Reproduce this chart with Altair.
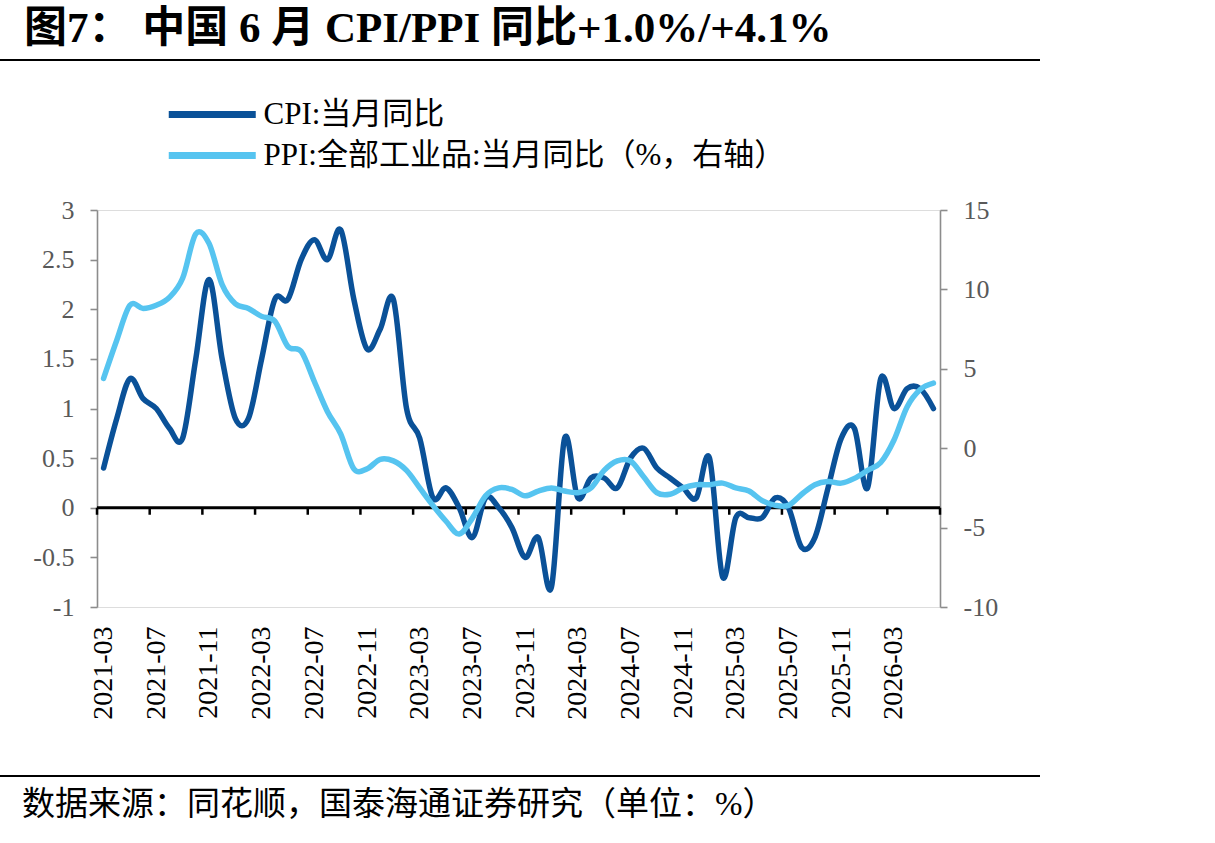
import altair as alt
import pandas as pd

# ---------------- data ----------------
months = [str(p) for p in pd.period_range("2021-03", periods=64, freq="M")]

cpi = [
    0.4, 0.9, 1.3, 1.1, 1.0, 0.8, 0.7, 1.5, 2.3, 1.5,
    0.9, 0.9, 1.5, 2.1, 2.1, 2.5, 2.7, 2.5, 2.8, 2.1, 1.6, 1.8,
    2.1, 1.0, 0.7, 0.1, 0.2, 0.0, -0.3, 0.1, 0.0, -0.2, -0.5, -0.3,
    -0.8, 0.7, 0.1, 0.3, 0.3, 0.2, 0.5, 0.6, 0.4, 0.3, 0.2, 0.1,
    0.5, -0.7, -0.1, -0.1, -0.1, 0.1, 0.0, -0.4, -0.3, 0.2, 0.7, 0.8,
    0.2, 1.3, 1.0, 1.2, 1.2, 1.0,
]

ppi = [
    4.4, 6.8, 9.0, 8.8, 9.0, 9.5, 10.7, 13.5, 12.9, 10.3,
    9.1, 8.8, 8.3, 8.0, 6.4, 6.1, 4.2, 2.3, 0.9, -1.3, -1.3, -0.7,
    -0.8, -1.4, -2.5, -3.6, -4.6, -5.4, -4.4, -3.0, -2.5, -2.6, -3.0, -2.7,
    -2.5, -2.7, -2.8, -2.5, -1.4, -0.8, -0.8, -1.8, -2.8, -2.9, -2.5, -2.3,
    -2.3, -2.2, -2.5, -2.7, -3.3, -3.6, -3.6, -2.9, -2.3, -2.1, -2.2, -1.9,
    -1.4, -0.9, 0.5, 2.6, 3.7, 4.1,
]

tick_labels = [
    "2021-03", "2021-07", "2021-11", "2022-03", "2022-07", "2022-11",
    "2023-03", "2023-07", "2023-11", "2024-03", "2024-07", "2024-11",
    "2025-03", "2025-07", "2025-11", "2026-03",
]

left_ticks = [-1, -0.5, 0, 0.5, 1, 1.5, 2, 2.5, 3]
right_ticks = [-10, -5, 0, 5, 10, 15]

cpi_name = "CPI:当月同比"
ppi_name = "PPI:全部工业品:当月同比（%，右轴）"
title_text = "图7： 中国 6 月 CPI/PPI 同比+1.0%/+4.1%"
source_text = "数据来源：同花顺，国泰海通证券研究（单位：%）"

# ---------------- tables ----------------
n = len(months)
pos = [i + 0.5 for i in range(n)]
df_cpi = pd.DataFrame({"month": months, "pos": pos, "value": cpi,
                       "series": [cpi_name] * n})
df_ppi = pd.DataFrame({"month": months, "pos": pos, "value": ppi,
                       "series": [ppi_name] * n})
ticks_df = pd.DataFrame({"pos": list(range(0, n + 1, 4))})
one = pd.DataFrame({"a": [0]})

# ---------------- styling ----------------
W, H = 843, 397
PAD_L, PAD_T = 97, 210
SERIF = "Liberation Serif, Noto Sans CJK SC"
DARK = "#0A5198"
LIGHT = "#56C4F0"
AXIS_GRAY = "#8C8C8C"

label_js = "[" + ",".join("'" + s + "'" for s in tick_labels) + "]"
x_axis = alt.Axis(
    values=[i * 4 + 0.5 for i in range(len(tick_labels))],
    labelExpr=label_js + "[floor(datum.value / 4)]",
    labelAngle=-90,
    labelFont="Liberation Serif",
    labelFontSize=28,
    labelColor="#000000",
    labelPadding=19,
    labelOverlap=False,
    labelFlush=False,
    ticks=False,
    domain=False,
    grid=False,
    title=None,
)
x_scale = alt.Scale(domain=[0, n], nice=False, zero=False)


def yaxis(vals, orient):
    return alt.Axis(
        values=vals,
        orient=orient,
        labelExpr="'' + datum.value",
        labelFont="Liberation Serif",
        labelFontSize=26,
        labelColor="#595959",
        labelPadding=16,
        domainColor=AXIS_GRAY,
        domainWidth=1.6,
        tickColor=AXIS_GRAY,
        tickWidth=1.6,
        tickSize=7,
        grid=False,
        title=None,
    )


# legend sample: a wide horizontal stroke (path twice as wide as the unit box)
SYM_HALF = 43.5
color_scale = alt.Scale(domain=[cpi_name, ppi_name], range=[DARK, LIGHT])
color_legend = alt.Legend(
    title=None,
    orient="none",
    legendX=68 + SYM_HALF / 2,
    legendY=-121,
    direction="vertical",
    symbolType="M-2,0H2",
    symbolSize=SYM_HALF * SYM_HALF,
    symbolStrokeWidth=7,
    symbolFillColor="transparent",
    labelFont=SERIF,
    labelFontSize=31,
    labelColor="#000000",
    labelLimit=2000,
    labelOffset=4 + SYM_HALF / 2,
    rowPadding=0,
    padding=0,
)
color_enc = alt.Color("series:N", scale=color_scale, legend=color_legend)

# ---------------- layers ----------------
zero_line = alt.Chart(one).mark_rule(color="#000000", strokeWidth=3).encode(
    y=alt.datum(0)
)

x_ticks = alt.Chart(ticks_df).mark_rule(
    color="#000000", strokeWidth=2.5, y2Offset=7
).encode(
    x=alt.X("pos:Q", scale=x_scale, axis=x_axis),
    y=alt.datum(0),
    y2=alt.datum(0),
)

cpi_line = alt.Chart(df_cpi).mark_line(
    strokeWidth=5.5, interpolate="cardinal", strokeCap="round", strokeJoin="round"
).encode(
    x=alt.X("pos:Q", scale=x_scale, axis=x_axis),
    y=alt.Y(
        "value:Q",
        scale=alt.Scale(domain=[-1, 3], nice=False, zero=False),
        axis=yaxis(left_ticks, "left"),
    ),
    color=color_enc,
)

ppi_line = alt.Chart(df_ppi).mark_line(
    strokeWidth=5.5, interpolate="cardinal", strokeCap="round", strokeJoin="round"
).encode(
    x=alt.X("pos:Q", scale=x_scale, axis=x_axis),
    y=alt.Y(
        "value:Q",
        scale=alt.Scale(domain=[-10, 15], nice=False, zero=False),
        axis=yaxis(right_ticks, "right"),
    ),
    color=color_enc,
)

top_rule = alt.Chart(one).mark_rule(color="#000000", strokeWidth=2).encode(
    x=alt.value(-PAD_L), x2=alt.value(1040 - PAD_L), y=alt.value(60 - PAD_T)
)
bottom_rule = alt.Chart(one).mark_rule(color="#000000", strokeWidth=2).encode(
    x=alt.value(-PAD_L), x2=alt.value(1040 - PAD_L), y=alt.value(776 - PAD_T)
)
title_mark = alt.Chart(one).mark_text(
    align="left", baseline="middle", font=SERIF, fontSize=43,
    fontWeight="bold", color="#000000",
).encode(
    x=alt.value(24 - PAD_L), y=alt.value(29 - PAD_T), text=alt.value(title_text)
)
source_mark = alt.Chart(one).mark_text(
    align="left", baseline="middle", font=SERIF, fontSize=33, color="#000000",
).encode(
    x=alt.value(22 - PAD_L), y=alt.value(805 - PAD_T), text=alt.value(source_text)
)

left = alt.layer(zero_line, x_ticks, cpi_line, top_rule, bottom_rule,
                 title_mark, source_mark)
right = alt.layer(ppi_line)

chart = alt.layer(left, right).resolve_scale(y="independent").properties(
    width=W,
    height=H,
    autosize=alt.AutoSizeParams(type="none"),
    padding={"left": PAD_L, "top": PAD_T, "right": 1215 - PAD_L - W,
             "bottom": 843 - PAD_T - H},
).configure_view(stroke=None).configure(background="#ffffff")

chart.save("out.html", embed_options={"renderer": "svg", "actions": False})
